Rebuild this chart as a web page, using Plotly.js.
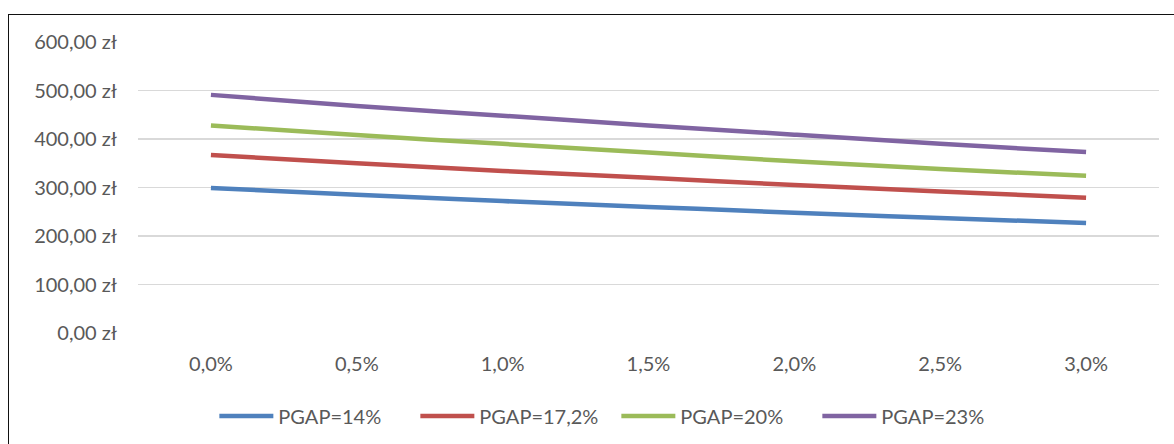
<!DOCTYPE html>
<html>
<head>
<meta charset="utf-8">
<script src="https://cdn.plot.ly/plotly-3.0.1.min.js"></script>
<style>
  html, body { margin: 0; padding: 0; width: 1174px; height: 444px; overflow: hidden; background: #fff; }
  #frame { position: absolute; left: 8px; top: 14px; width: 1300px; height: 600px; border-top: 1.5px solid #111; border-left: 1.5px solid #111; }
  #chart { position: absolute; left: 0; top: 0; width: 1174px; height: 444px; }
</style>
</head>
<body>
<div id="frame"></div>
<div id="chart"></div>
<script>
// Categories (growth rate)
const categories = ['0,0%', '0,5%', '1,0%', '1,5%', '2,0%', '2,5%', '3,0%'];

// Series values (zł)
const pgap14  = [299, 285, 272, 260, 248, 237, 227];
const pgap172 = [367, 350, 334, 320, 305, 292, 279];
const pgap20  = [428, 408, 390, 372, 354, 338, 324];
const pgap23  = [491, 468, 448, 428, 409, 390, 373];

const seriesNames = ['PGAP=14%', 'PGAP=17,2%', 'PGAP=20%', 'PGAP=23%'];
const seriesColors = ['#4F81BD', '#C0504D', '#9BBB59', '#8064A2'];

// Y tick labels
const yTickVals = [0, 100, 200, 300, 400, 500, 600];
const yTickText = ['0,00 zł', '100,00 zł', '200,00 zł', '300,00 zł', '400,00 zł', '500,00 zł', '600,00 zł'];

const allSeries = [pgap14, pgap172, pgap20, pgap23];
const traces = allSeries.map((vals, i) => ({
  type: 'scatter',
  mode: 'lines',
  x: categories,
  y: vals,
  name: seriesNames[i],
  line: { color: seriesColors[i], width: 4.5, shape: 'spline' }
}));

const font = { family: 'Lato, "Open Sans", sans-serif', size: 20, color: '#595959' };

const layout = {
  width: 1174,
  height: 444,
  margin: { l: 138, r: 15, t: 42, b: 111 },
  paper_bgcolor: 'rgba(0,0,0,0)',
  plot_bgcolor: 'rgba(0,0,0,0)',
  font: font,
  showlegend: true,
  xaxis: {
    type: 'category',
    range: [-0.5, 6.5],
    showgrid: false,
    zeroline: false,
    showline: false,
    ticks: '',
    ticklabelstandoff: 17,
    tickfont: font,
    fixedrange: true
  },
  yaxis: {
    range: [0, 600],
    tickvals: yTickVals,
    ticktext: yTickText,
    showgrid: true,
    gridcolor: '#D9D9D9',
    gridwidth: 1.3,
    zeroline: false,
    showline: false,
    ticks: '',
    ticklabelstandoff: 20,
    tickfont: font,
    fixedrange: true
  },
  legend: {
    orientation: 'h',
    xref: 'container',
    yref: 'container',
    x: 0.525,
    xanchor: 'center',
    y: 1 - 416 / 444,
    yanchor: 'middle',
    font: font,
    itemwidth: 54,
    entrywidth: 132,
    entrywidthmode: 'pixels',
    bgcolor: 'rgba(0,0,0,0)'
  }
};

Plotly.newPlot('chart', traces, layout, { displayModeBar: false, staticPlot: true });
</script>
</body>
</html>
